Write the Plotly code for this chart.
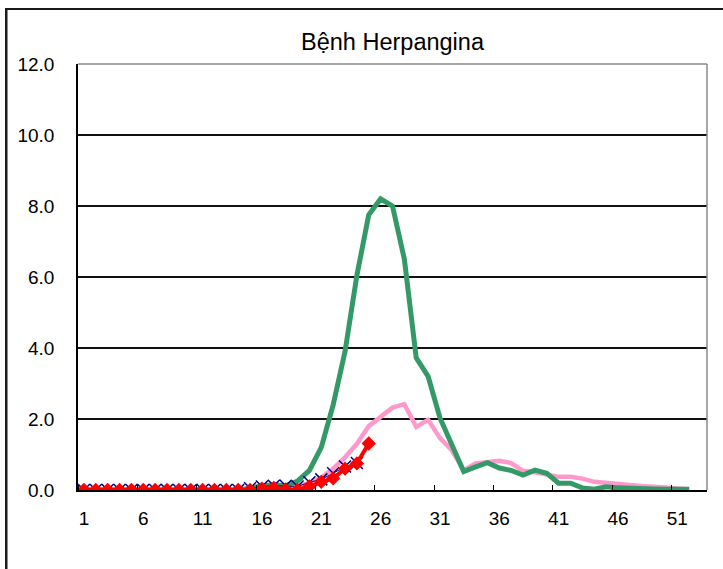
import plotly.graph_objects as go

weeks = list(range(1, 54))
tick_labels = [1, 6, 11, 16, 21, 26, 31, 36, 41, 46, 51]

green_weeks = list(range(1, 53))
green_vals = [0.0] * 14 + [0.05, 0.12, 0.15, 0.12, 0.25, 0.55, 1.2, 2.4, 3.9, 6.05,
              7.75, 8.2, 8.0, 6.5, 3.72, 3.2, 2.03, 1.25, 0.52, 0.65,
              0.77, 0.62, 0.55, 0.42, 0.56, 0.47, 0.19, 0.19, 0.06, 0.02,
              0.09, 0.06, 0.04, 0.04, 0.03, 0.02, 0.02, 0.02]

pink_weeks = list(range(1, 53))
pink_vals = [0.02] * 18 + [0.1, 0.2, 0.35, 0.6, 0.92, 1.3, 1.8, 2.05, 2.32, 2.42,
             1.78, 1.98, 1.46, 1.12, 0.56, 0.75, 0.8, 0.82, 0.76, 0.54,
             0.5, 0.44, 0.37, 0.37, 0.32, 0.23, 0.19, 0.16, 0.14, 0.11,
             0.1, 0.07, 0.04, 0.02]

blue_weeks = list(range(1, 25))
blue_vals = [0.0] * 14 + [0.05, 0.1, 0.12, 0.12, 0.1, 0.22, 0.3, 0.47, 0.66, 0.76]

red_weeks = list(range(1, 26))
red_vals = [0.0] * 15 + [0.04, 0.06, 0.02, 0.0, 0.1, 0.23, 0.33, 0.6, 0.75, 1.31]

fig = go.Figure()
fig.add_trace(go.Scatter(x=pink_weeks, y=pink_vals, mode="lines",
                         line=dict(color="#FF99CC", width=4.5), name="pink"))
fig.add_trace(go.Scatter(x=green_weeks, y=green_vals, mode="lines",
                         line=dict(color="#339966", width=5), name="green"))
fig.add_trace(go.Scatter(x=blue_weeks, y=blue_vals, mode="lines+markers",
                         line=dict(color="#000080", width=1),
                         marker=dict(symbol="x-thin-open", size=12,
                                     line=dict(color="#000080", width=1.5)),
                         name="blue"))
fig.add_trace(go.Scatter(x=red_weeks, y=red_vals, mode="lines+markers",
                         line=dict(color="#FF0000", width=4),
                         marker=dict(symbol="diamond", size=11, color="#FF0000"),
                         name="red"))

font = "Liberation Sans"
fig.update_layout(
    width=723, height=569,
    margin=dict(l=78, r=16, t=64, b=79),
    paper_bgcolor="white", plot_bgcolor="white",
    showlegend=False,
    title=dict(text="Bệnh Herpangina", x=392.5 / 723, xanchor="center",
               y=1 - 42 / 569, yanchor="middle",
               font=dict(family=font, size=23.5, color="black")),
    font=dict(family=font, size=19, color="black"),
)
fig.update_xaxes(
    range=[0.5, 53.5], tickmode="array", tickvals=tick_labels,
    ticktext=[str(t) for t in tick_labels], ticks="", showgrid=False,
    zeroline=False, showline=True, linecolor="black", linewidth=1.5,
    ticklabelstandoff=10, tickfont=dict(family=font, size=19),
    minor=dict(tick0=0.5, dtick=5, ticks="inside", ticklen=5,
               tickcolor="black", tickwidth=1, showgrid=False),
)
fig.update_yaxes(
    range=[0, 12], tickmode="linear", tick0=0, dtick=2, tickformat=".1f",
    showgrid=True, gridcolor="#111111", gridwidth=1.5, zeroline=False,
    showline=True, linecolor="black", linewidth=1.5,
    ticks="", ticklabelstandoff=18, tickfont=dict(family=font, size=19),
)
# plot area border (top and right, gray)
fig.add_shape(type="line", xref="paper", yref="paper", x0=0, x1=1, y0=1, y1=1,
              line=dict(color="#888888", width=1.5))
fig.add_shape(type="line", xref="paper", yref="paper", x0=1, x1=1, y0=0, y1=1,
              line=dict(color="#888888", width=1.5))


def px_x(p):
    return (p - 78) / 629


def px_y(p):
    return (490 - p) / 426


# outer chart border (top and left edges)
fig.add_shape(type="rect", xref="paper", yref="paper",
              x0=px_x(5.5), x1=px_x(723), y0=px_y(10), y1=px_y(8),
              fillcolor="#1a1a1a", line=dict(width=0), layer="above")
fig.add_shape(type="rect", xref="paper", yref="paper",
              x0=px_x(5.5), x1=px_x(7.5), y0=px_y(569), y1=px_y(8),
              fillcolor="#1a1a1a", line=dict(width=0), layer="above")

frame_js = (
    "document.body.style.margin='0';"
    "var d=document.createElement('div');"
    "d.style.cssText='position:absolute;left:5px;top:8px;width:760px;height:620px;"
    "border-left:2px solid #1a1a1a;border-top:2px solid #1a1a1a;"
    "pointer-events:none;z-index:10;box-sizing:border-box;';"
    "document.body.appendChild(d);"
)

fig.write_html("out.html", config={"displayModeBar": False},
               post_script=frame_js)
